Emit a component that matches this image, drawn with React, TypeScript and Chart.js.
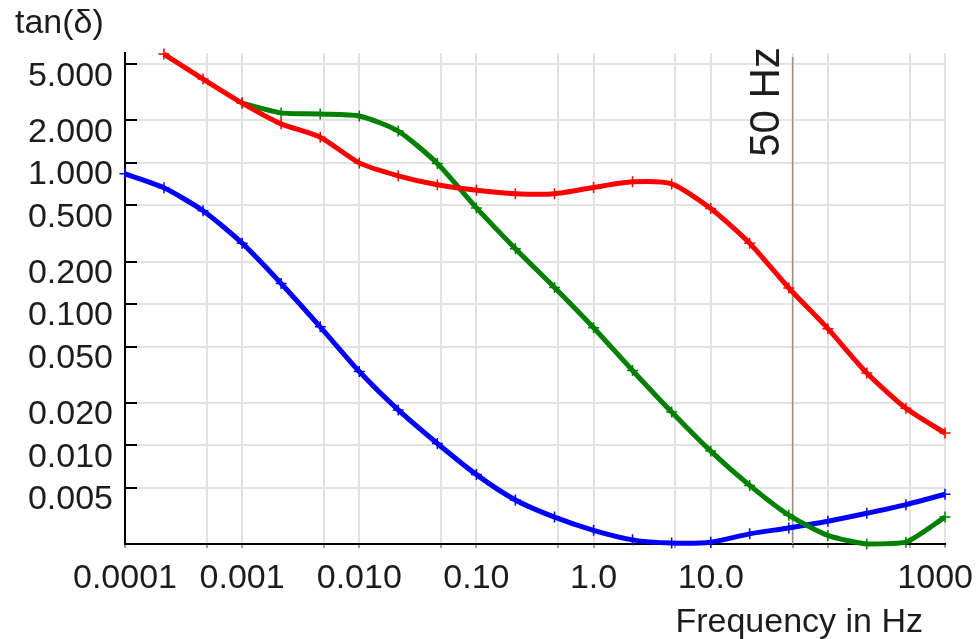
import { useEffect, useRef } from "react";
import { Chart, registerables } from "chart.js";

Chart.register(...registerables);

// Measurement frequencies, three points per decade (Hz)
const frequencies = [
  0.0001, 0.000215, 0.000464, 0.001, 0.00215, 0.00464, 0.01, 0.0215, 0.0464, 0.1, 0.215,
  0.464, 1, 2.15, 4.64, 10, 21.5, 46.4, 100, 215, 464, 1000,
];

// Loss factor tan(δ) for the three samples
const redValues = [
  null, 5.9, 3.92, 2.65, 1.89, 1.52, 1.0, 0.81, 0.7, 0.64, 0.604, 0.604, 0.67, 0.734, 0.71,
  0.475, 0.27, 0.13, 0.067, 0.0325, 0.0183, 0.0122,
];
const greenValues = [
  null, null, null, 2.65, 2.26, 2.22, 2.15, 1.68, 0.99, 0.48, 0.247, 0.131, 0.068, 0.0339,
  0.0172, 0.0091, 0.0052, 0.0032, 0.0023, 0.002, 0.00206, 0.0031,
];
const blueValues = [
  0.836, 0.666, 0.458, 0.27, 0.14, 0.069, 0.0333, 0.0178, 0.0103, 0.0062, 0.0041, 0.0031,
  0.0025, 0.00214, 0.00203, 0.00206, 0.00236, 0.0026, 0.0029, 0.0033, 0.0038, 0.0045,
];

const yMin = 0.002;
const yMax = 6;
const yTickValues = [5, 2, 1, 0.5, 0.2, 0.1, 0.05, 0.02, 0.01, 0.005, 0.002];
const yTickLabels = [
  "5.000", "2.000", "1.000", "0.500", "0.200", "0.100", "0.050", "0.020", "0.010", "0.005", "",
];

const xMin = 0.0001;
const xMax = 1000;
const xGridValues = [
  0.0001, 0.0005, 0.001, 0.005, 0.01, 0.05, 0.1, 0.5, 1, 5, 10, 50, 100, 500, 1000,
];
const xLabelValues = [0.0001, 0.001, 0.01, 0.1, 1, 10, 1000];
const xLabelTexts = ["0.0001", "0.001", "0.010", "0.10", "1.0", "10.0", "1000"];

const markerFrequency = 50;
const markerLabel = "50 Hz";
const yTitle = "tan(δ)";
const xTitle = "Frequency in Hz";

const WIDTH = 977;
const HEIGHT = 639;
const FONT = '"Liberation Sans", Arial, sans-serif';
const TEXT = "#1c1c1c";

function toPoints(values: (number | null)[]) {
  return frequencies.map((f, i) => ({ x: f, y: values[i] }));
}

export default function App() {
  const ref = useRef<HTMLCanvasElement>(null);

  useEffect(() => {
    const canvas = ref.current;
    if (!canvas) return;

    const overlay = {
      id: "overlay",
      beforeDatasetsDraw(chart: any) {
        const { ctx, chartArea, scales } = chart;
        const x = scales.x.getPixelForValue(markerFrequency);
        ctx.save();
        ctx.strokeStyle = "#9b8e84";
        ctx.lineWidth = 1.5;
        ctx.beginPath();
        ctx.moveTo(x, chartArea.top + 4);
        ctx.lineTo(x, chartArea.bottom);
        ctx.stroke();
        ctx.restore();
      },
      afterDraw(chart: any) {
        const { ctx, chartArea, scales } = chart;
        ctx.save();

        // inward tick marks on the value axis
        ctx.strokeStyle = "#000";
        ctx.lineWidth = 2;
        yTickValues.forEach((v) => {
          const y = Math.round(scales.y.getPixelForValue(v));
          ctx.beginPath();
          ctx.moveTo(chartArea.left, y);
          ctx.lineTo(chartArea.left + 12, y);
          ctx.stroke();
        });

        ctx.fillStyle = TEXT;

        // frequency labels
        ctx.font = `34px ${FONT}`;
        ctx.textAlign = "center";
        ctx.textBaseline = "alphabetic";
        xLabelValues.forEach((v, i) => {
          const text = xLabelTexts[i];
          const w = ctx.measureText(text).width;
          let x = scales.x.getPixelForValue(v);
          x = Math.min(x, WIDTH - w / 2 - 4);
          x = Math.max(x, w / 2 + 4);
          ctx.fillText(text, x, chartArea.bottom + 44);
        });

        // axis titles
        ctx.textAlign = "left";
        ctx.fillText(yTitle, 15, 33);
        ctx.textAlign = "right";
        ctx.fillText(xTitle, 923, 632);

        // 50 Hz marker label
        const mx = scales.x.getPixelForValue(markerFrequency);
        ctx.font = `42px ${FONT}`;
        ctx.translate(mx - 14, 102);
        ctx.rotate(-Math.PI / 2);
        ctx.textAlign = "center";
        ctx.fillText(markerLabel, 0, 0);

        ctx.restore();
      },
    };

    const seriesStyle = (color: string) => ({
      borderColor: color,
      backgroundColor: color,
      borderWidth: 5,
      pointStyle: "cross" as const,
      pointRadius: 5.5,
      pointBorderWidth: 1.5,
      pointBorderColor: color,
      tension: 0.22,
      clip: false as const,
      spanGaps: false,
    });

    const chart = new Chart(canvas, {
      type: "line",
      data: {
        datasets: [
          { label: "red", data: toPoints(redValues), ...seriesStyle("#ff0000") },
          { label: "green", data: toPoints(greenValues), ...seriesStyle("#008000") },
          { label: "blue", data: toPoints(blueValues), ...seriesStyle("#0000ff") },
        ],
      },
      options: {
        responsive: false,
        animation: false,
        devicePixelRatio: 1,
        layout: { padding: { top: 53, right: 32, bottom: 0, left: 0 } },
        plugins: {
          legend: { display: false },
          tooltip: { enabled: false },
        },
        scales: {
          x: {
            type: "logarithmic",
            min: xMin,
            max: xMax,
            afterBuildTicks: (scale: any) => {
              scale.ticks = xGridValues.map((value) => ({ value }));
            },
            afterFit: (scale: any) => {
              scale.height = HEIGHT - 544;
            },
            ticks: { display: false, autoSkip: false },
            grid: {
              color: "#e2e2e2",
              lineWidth: 2,
              drawTicks: true,
              tickLength: 4,
              tickColor: "#444",
              tickWidth: 1,
            },
            border: { display: true, color: "#000", width: 2 },
          },
          y: {
            type: "logarithmic",
            min: yMin,
            max: yMax,
            afterBuildTicks: (scale: any) => {
              scale.ticks = yTickValues.map((value) => ({ value }));
            },
            afterFit: (scale: any) => {
              scale.width = 125;
            },
            ticks: {
              autoSkip: false,
              padding: 12,
              labelOffset: 12,
              color: TEXT,
              font: { family: FONT, size: 34 },
              callback: (value: any) => {
                const i = yTickValues.indexOf(Number(value));
                return i >= 0 ? yTickLabels[i] : "";
              },
            },
            grid: { color: "#e2e2e2", lineWidth: 2, drawTicks: false },
            border: { display: true, color: "#000", width: 2 },
          },
        },
      },
      plugins: [overlay],
    } as any);

    return () => chart.destroy();
  }, []);

  return (
    <div
      style={{
        position: "fixed",
        left: 0,
        top: 0,
        width: WIDTH,
        height: HEIGHT,
        background: "#fff",
      }}
    >
      <canvas ref={ref} width={WIDTH} height={HEIGHT} style={{ display: "block" }} />
    </div>
  );
}
